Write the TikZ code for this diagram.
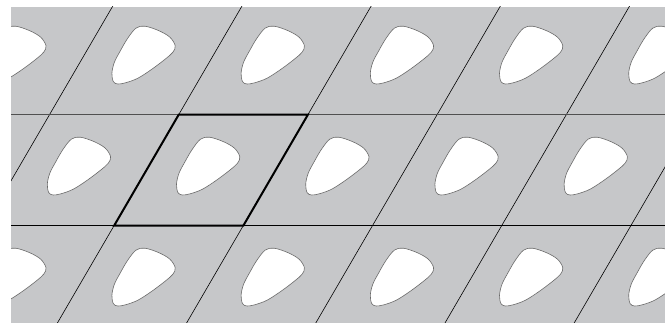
\documentclass[tikz,border=0pt]{standalone}
\definecolor{bg}{RGB}{198,199,201}
\definecolor{edge}{RGB}{105,105,105}
\definecolor{hline}{RGB}{80,80,80}
\tikzset{
  blob/.style={fill=white,draw=edge,line width=0.6pt},
  gridline/.style={black,line width=0.6pt},
  topline/.style={hline,line width=0.9pt},
  cellframe/.style={black,line width=2pt,line join=miter}
}
\begin{document}
\begin{tikzpicture}[x=1pt,y=-1pt]
\useasboundingbox (0,0) rectangle (665,323);
\fill[bg] (11,7) rectangle (665,323);
\begin{scope}
\clip (11,7) rectangle (665,323);
\foreach \j/\cx in {-1/145.9, 0/210.5, 1/145.9} {
  \foreach \k in {-2,...,5} {
    \draw[blob, shift={(\cx+129.2*\k, 170.2+111*\j)}]
      plot[smooth cycle, tension=0.55] coordinates {
        (-10,-31) (-1,-33) (13,-28.5) (24,-22) (29.3,-13.5) (27,-7)
        (19.5,-0.2) (6,10) (-8,19) (-20,23.5) (-28,24.8) (-32.5,22.5)
        (-34,14) (-31.5,3) (-25.5,-8.5) (-18.5,-20.5)};
  }
}
\foreach \k in {-2,...,6} {
  \draw[gridline] (116.3+129.2*\k,0) -- (-75.9+129.2*\k,330);
}
\draw[topline] (11,114.7) -- (665,114.7);
\draw[gridline] (11,225.7) -- (665,225.7);
\end{scope}
\draw[cellframe] (178.7,114.7) -- (307.9,114.7) -- (243.3,225.7) -- (114.1,225.7) -- cycle;
\end{tikzpicture}
\end{document}
